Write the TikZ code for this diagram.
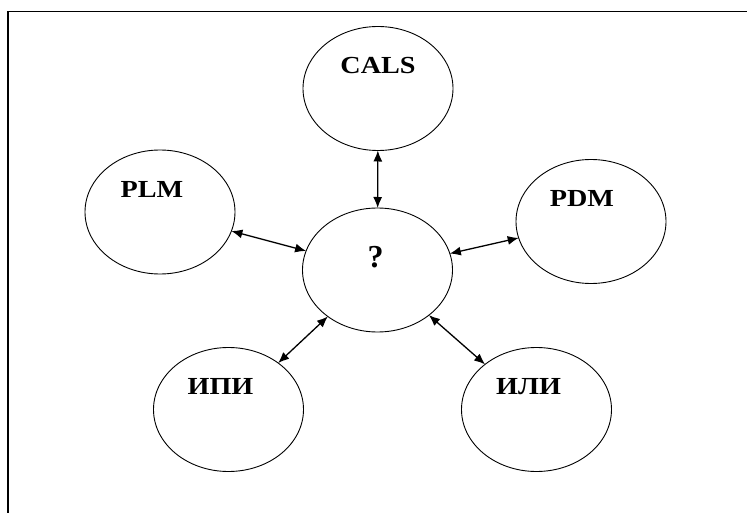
\documentclass[tikz,border=0pt]{standalone}
\usepackage{fontspec}
\setmainfont{Liberation Serif}
\usepackage{tikz}
\usetikzlibrary{shapes,arrows.meta,positioning,calc}

\newcommand{\lbl}[1]{\scalebox{1.15}[1]{\fontsize{24.5}{26}\selectfont\bfseries #1}}

\begin{document}
\begin{tikzpicture}[x=1pt, y=-1pt,
    bubble/.style={draw, ellipse, line width=0.9pt, minimum width=150pt, minimum height=124pt, inner sep=0pt, outer sep=0pt},
    link/.style={{Latex[length=11pt, width=9pt]}-{Latex[length=11pt, width=9pt]}, line width=1.3pt}]
    \useasboundingbox (0,0) rectangle (747,513);

    % frame
    \coordinate (fl) at (8,513);
    \coordinate (fr) at (747,11.5);
    \draw[line width=1.3pt] (fl) |- (fr);

    % center
    \node[bubble, label={[xshift=-2pt, yshift=13pt]center:{\fontsize{32}{34}\selectfont\bfseries ?}}] (mid) at (377.5,270) {};

    % outer bubbles
    \node[bubble, label={[yshift=23pt]center:\lbl{CALS}}] (cals) at (378,88.5) {};
    \node[bubble, label={[xshift=-8pt, yshift=23pt]center:\lbl{PLM}}] (plm) at (160,212) {};
    \node[bubble, label={[xshift=-9pt, yshift=23pt]center:\lbl{PDM}}] (pdm) at (591,221.5) {};
    \node[bubble, label={[xshift=-8pt, yshift=23pt]center:\lbl{ИПИ}}] (ipi) at (228.5,409.5) {};
    \node[bubble, label={[xshift=-8pt, yshift=23pt]center:\lbl{ИЛИ}}] (ili) at (536.5,409.5) {};

    % links
    \draw[link] (cals) -- (mid);
    \draw[link] (plm) -- (mid);
    \draw[link] (pdm) -- (mid);
    \draw[link] (ipi) -- (mid);
    \draw[link] (ili) -- (mid);
\end{tikzpicture}
\end{document}
